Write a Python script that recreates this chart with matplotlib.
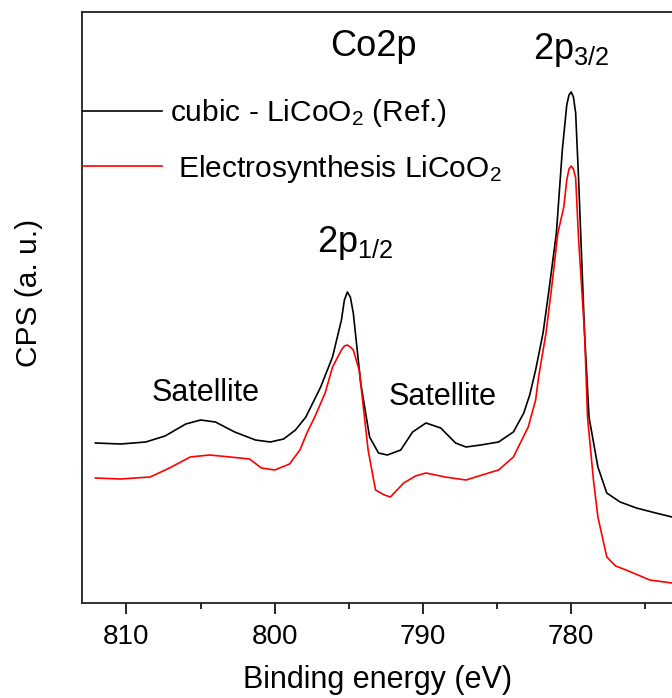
import matplotlib
matplotlib.use('Agg')
import matplotlib.pyplot as plt

plt.rcParams['font.family'] = ['Liberation Sans', 'DejaVu Sans']
plt.rcParams['mathtext.fontset'] = 'custom'
plt.rcParams['mathtext.rm'] = 'Liberation Sans'
plt.rcParams['mathtext.it'] = 'Liberation Sans'

# Co2p XPS spectra (binding energy in eV, counts in a.u.)
energy_ref = [812.1, 810.4, 808.7, 807.4, 806.0, 805.0, 804.0, 802.7, 801.3, 800.3,
              799.4, 798.6, 797.9, 796.9, 796.1, 795.5, 795.3, 795.1, 794.9, 794.7,
              794.2, 793.6, 793.0, 792.4, 791.5, 790.7, 789.8, 788.8, 787.8, 787.1,
              786.1, 784.9, 783.9, 783.2, 782.8, 782.4, 781.9, 781.5, 781.0, 780.6,
              780.3, 780.15, 780.0, 779.85, 779.7, 779.5, 779.1, 778.8, 778.2, 777.6,
              776.7, 775.6, 774.3, 773.2, 772.0]
cps_ref = [160, 159, 161, 167, 179, 183, 181, 171, 163, 161,
           164, 173, 186, 216, 246, 283, 303, 311, 306, 290,
           220, 166, 150, 148, 153, 171, 180, 175, 160, 156,
           158, 161, 171, 190, 208, 233, 270, 313, 370, 453,
           498, 508, 511, 506, 490, 423, 270, 186, 136, 110,
           101, 95, 90, 86, 84]

energy_es = [812.1, 810.4, 808.4, 807.1, 805.7, 804.4, 803.0, 801.7, 800.9, 800.0,
             799.0, 798.3, 797.8, 797.3, 796.6, 796.1, 795.5, 795.3, 795.1, 794.9,
             794.7, 794.3, 794.0, 793.7, 793.2, 792.6, 792.2, 791.3, 790.5, 789.8,
             788.5, 787.1, 785.8, 784.9, 783.9, 782.9, 782.4, 782.2, 781.7, 781.3,
             780.9, 780.5, 780.3, 780.15, 780.0, 779.85, 779.7, 779.5, 779.1, 778.9,
             778.5, 778.2, 777.6, 777.0, 776.3, 774.7, 773.2, 772.0]
cps_es = [125, 124, 126, 135, 146, 148, 146, 144, 135, 133,
          139, 153, 171, 186, 210, 236, 253, 257, 258, 256,
          253, 233, 193, 153, 113, 108, 106, 120, 127, 130,
          126, 123, 129, 133, 146, 176, 203, 226, 270, 318,
          370, 396, 423, 434, 437, 434, 425, 363, 270, 186,
          123, 86, 46, 37, 33, 23, 20, 19]

W, H = 672, 698
fig = plt.figure(figsize=(W / 100, H / 100), dpi=100)
ax = fig.add_axes([82 / W, 1 - 603 / H, (673.5 - 82) / W, 591 / H])

ax.plot(energy_ref, cps_ref, color='black', lw=1.2, label='cubic - LiCoO$_2$ (Ref.)')
ax.plot(energy_es, cps_es, color='#ff0000', lw=1.2, label=' Electrosynthesis LiCoO$_2$')

ax.set_xlim(813.0, 773.1)
ax.set_ylim(0, 591)
ax.set_xticks([810, 800, 790, 780])
ax.set_xticks([805, 795, 785, 775], minor=True)
ax.set_yticks([])
ax.tick_params(axis='x', which='major', direction='out', length=8, width=1.2, labelsize=20, pad=7)
ax.tick_params(axis='x', which='minor', direction='out', length=4, width=1.2)
for s in ax.spines.values():
    s.set_linewidth(1.3)
    s.set_color('#222222')

ax.set_xlabel('Binding energy (eV)', fontsize=22, labelpad=11)
ax.set_ylabel('CPS (a. u.)', fontsize=21.5)
ax.yaxis.set_label_coords(-0.066, 0.5245)


def label(px, py, s, size):
    # px, py: pixel position measured from the top-left corner of the image
    fig.text(px / W, 1 - py / H, s, fontsize=size, ha='center', va='center')


label(373, 47, 'Co2p', 26)
label(571, 50, '2p$_{3/2}$', 26)
label(355, 243, '2p$_{1/2}$', 26)
label(206, 393, 'Satellite', 22)
label(443, 397, 'Satellite', 22)

ax.legend(loc='upper left', bbox_to_anchor=(83 / W, 1 - 97 / H), bbox_transform=fig.transFigure,
          frameon=False, fontsize=21.5, handlelength=2.65, handletextpad=0.28,
          labelspacing=0.79, borderaxespad=0, borderpad=0)

fig.savefig('out.png', dpi=100)
